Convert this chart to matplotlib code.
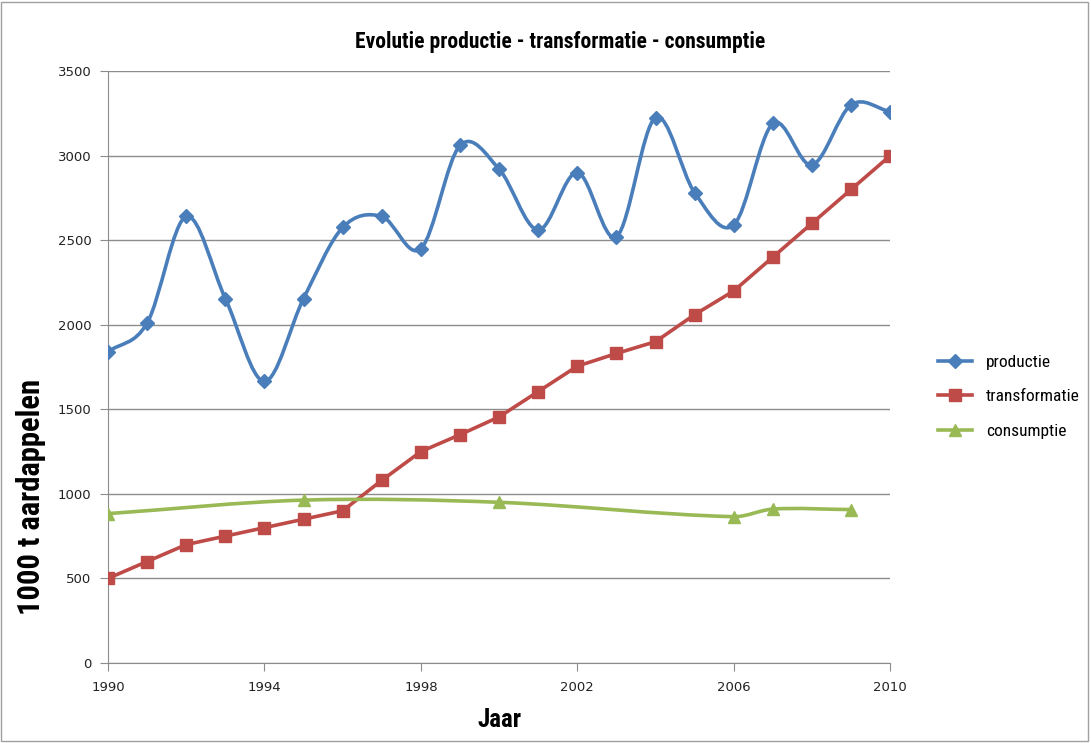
import numpy as np
import matplotlib.pyplot as plt
from matplotlib.path import Path
from matplotlib.patches import PathPatch, Rectangle
from matplotlib.lines import Line2D

years = list(range(1990, 2011))
productie = [1840, 2010, 2640, 2155, 1665, 2155, 2575, 2640, 2450, 3060,
             2920, 2560, 2900, 2520, 3225, 2780, 2590, 3190, 2945, 3300, 3260]
transformatie = [500, 600, 700, 750, 800, 850, 900, 1080, 1250, 1350,
                 1455, 1605, 1755, 1830, 1900, 2060, 2200, 2400, 2600, 2800, 3000]
cons_years = [1990, 1995, 2000, 2006, 2007, 2009]
consumptie = [883, 963, 950, 865, 910, 907]

BLUE = '#4A7EBB'
RED = '#BE4B48'
GREEN = '#98B954'
GRID = '#8C8C8C'
NARROW = ['Roboto Condensed', 'Liberation Sans Narrow', 'DejaVu Sans']
plt.rcParams['font.family'] = NARROW
plt.rcParams['font.stretch'] = 'condensed'


def smooth_path(xs, ys):
    # cubic hermite through the points (Excel-like smoothed line)
    x = np.asarray(xs, float)
    y = np.asarray(ys, float)
    n = len(x)
    m = np.zeros(n)
    for i in range(n):
        a = max(i - 1, 0)
        b = min(i + 1, n - 1)
        m[i] = (y[b] - y[a]) / (x[b] - x[a])
    verts = [(x[0], y[0])]
    codes = [Path.MOVETO]
    for i in range(n - 1):
        h = (x[i + 1] - x[i]) / 3
        verts += [(x[i] + h, y[i] + m[i] * h),
                  (x[i + 1] - h, y[i + 1] - m[i + 1] * h),
                  (x[i + 1], y[i + 1])]
        codes += [Path.CURVE4] * 3
    return Path(verts, codes)


fig = plt.figure(figsize=(10.91, 7.43), dpi=100)
ax = fig.add_axes([0.099, 0.1077, 0.717, 0.7967])

series = [
    (years, productie, BLUE, 'D', 7, 'productie', True),
    (years, transformatie, RED, 's', 8, 'transformatie', False),
    (cons_years, consumptie, GREEN, '^', 8.5, 'consumptie', True),
]
handles = []
for xs, ys, col, mk, ms, lab, smooth in series:
    if smooth:
        ax.add_patch(PathPatch(smooth_path(xs, ys), fill=False,
                               edgecolor=col, lw=2.6, capstyle='round',
                               joinstyle='round', zorder=3))
    else:
        ax.plot(xs, ys, color=col, lw=2.6, zorder=3)
    ax.plot(xs, ys, linestyle='none', marker=mk, ms=ms, color=col, zorder=4)
    handles.append(Line2D([], [], color=col, lw=2.6, marker=mk, ms=ms, label=lab))

ax.set_xlim(1990, 2010)
ax.set_ylim(0, 3500)
ax.set_xticks(range(1990, 2011, 4))
ax.set_yticks(range(0, 3501, 500))
ax.grid(axis='y', color=GRID, lw=1)
ax.set_axisbelow(True)
for s in ['top', 'right']:
    ax.spines[s].set_visible(False)
for s in ['left', 'bottom']:
    ax.spines[s].set_color(GRID)
ax.tick_params(axis='both', direction='out', length=6, color=GRID,
               labelsize=9.5)
ax.tick_params(axis='x', pad=7)
ax.tick_params(axis='y', pad=6)
for lbl in ax.get_xticklabels() + ax.get_yticklabels():
    lbl.set_family('DejaVu Sans')
    lbl.set_stretch('normal')
    lbl.set_color('#222222')

fig.text(0.513, 0.943, 'Evolutie productie - transformatie - consumptie',
         fontsize=15.5, fontweight='bold', ha='center', va='center')
ax.set_xlabel('Jaar', fontsize=18, fontweight='bold', labelpad=10)
ax.set_ylabel('1000 t aardappelen', fontsize=22, fontweight='bold')
ax.yaxis.set_label_coords(-0.079, 0.28)

fig.legend(handles=handles, loc='center left', bbox_to_anchor=(0.845, 0.466),
           frameon=False, prop={'size': 12.5},
           handlelength=2.0, labelspacing=1.1)

fig.add_artist(Rectangle((0.001, 0.003), 0.996, 0.994, transform=fig.transFigure,
                         fill=False, edgecolor='#A0A0A0', lw=1))

plt.savefig('out.png')
plt.close()
